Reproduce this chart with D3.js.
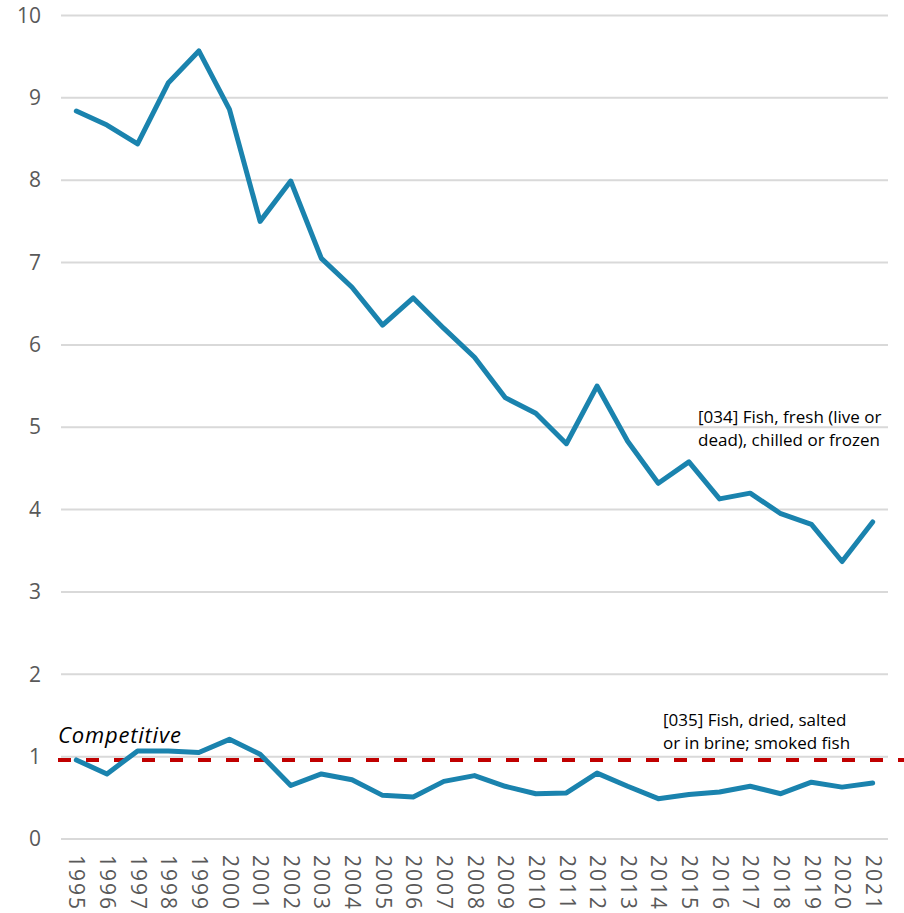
<!DOCTYPE html>
<html>
<head>
<meta charset="utf-8">
<script src="https://cdn.jsdelivr.net/npm/d3@7"></script>
<style>
  body { margin: 0; background: #fff; }
  svg { display: block; font-family: "Open Sans", Lato, sans-serif; }
</style>
</head>
<body>
<div id="main"></div>
<script>
const W = 904;
const H = 913;

var years = ["1995","1996","1997","1998","1999","2000","2001","2002","2003","2004",
             "2005","2006","2007","2008","2009","2010","2011","2012","2013","2014",
             "2015","2016","2017","2018","2019","2020","2021"];

// [034] fresh fish
var fresh = [8.84, 8.67, 8.44, 9.18, 9.57, 8.86, 7.50, 7.99, 7.05, 6.70,
             6.24, 6.57, 6.20, 5.85, 5.36, 5.17, 4.80, 5.50, 4.83, 4.32,
             4.58, 4.13, 4.20, 3.95, 3.82, 3.37, 3.85];

// [035] dried / salted / smoked fish
var dried = [0.96, 0.79, 1.07, 1.07, 1.05, 1.21, 1.03, 0.65, 0.79, 0.72,
             0.53, 0.51, 0.70, 0.77, 0.64, 0.55, 0.56, 0.80, 0.64, 0.49,
             0.54, 0.57, 0.64, 0.55, 0.69, 0.63, 0.68];

var yTicks = [0, 1, 2, 3, 4, 5, 6, 7, 8, 9, 10];
var threshold = 0.96;

var freshLabel = ["[034] Fish, fresh (live or", "dead), chilled or frozen"];
var driedLabel = ["[035] Fish, dried, salted", "or in brine; smoked fish"];

var svg = d3.select("#main").append("svg")
    .attr("width", W)
    .attr("height", H);

var x = d3.scalePoint().domain(years).range([61, 888]).padding(0.5);
var y = d3.scaleLinear().domain([0, 10]).range([839, 15.5]);

// gridlines
svg.append("g")
    .selectAll("line")
    .data(yTicks)
    .enter()
    .append("line")
    .attr("x1", 61)
    .attr("x2", 888)
    .attr("y1", d => y(d))
    .attr("y2", d => y(d))
    .style("stroke", "#d9d9d9")
    .style("stroke-width", 2);

// y axis labels
var yAxis = d3.axisLeft(y).tickValues(yTicks).tickSize(0).tickPadding(0);
var yg = svg.append("g").attr("transform", "translate(41,0)").call(yAxis);
yg.select(".domain").remove();
yg.selectAll("text")
    .style("font-family", "'Open Sans', sans-serif")
    .style("font-size", "21px")
    .style("fill", "#595959");

// x axis labels, rotated
var xAxis = d3.axisBottom(x).tickSize(0).tickPadding(0);
var xg = svg.append("g").attr("transform", "translate(0,855)").call(xAxis);
xg.select(".domain").remove();
xg.selectAll("text")
    .attr("transform", "rotate(90)")
    .attr("x", 0)
    .attr("y", 0)
    .attr("dx", 0)
    .attr("dy", "0.35em")
    .style("text-anchor", "start")
    .style("font-family", "'Open Sans', sans-serif")
    .style("font-size", "21px")
    .style("letter-spacing", "2px")
    .style("fill", "#595959");

// competitive threshold
svg.append("line")
    .attr("x1", 58)
    .attr("x2", W)
    .attr("y1", y(threshold))
    .attr("y2", y(threshold))
    .style("stroke", "#c00000")
    .style("stroke-width", 4)
    .style("stroke-dasharray", "13,15");

svg.append("text")
    .attr("x", 58)
    .attr("y", 743)
    .style("font-size", "22px")
    .style("font-style", "italic")
    .style("letter-spacing", "0.8px")
    .style("fill", "#000")
    .text("Competitive");

var line = d3.line()
    .x((d, i) => x(years[i]))
    .y(d => y(d));

[fresh, dried].forEach(function(series){
    svg.append("path")
        .datum(series)
        .attr("d", line)
        .style("fill", "none")
        .style("stroke", "#1a83ae")
        .style("stroke-width", 5)
        .style("stroke-linejoin", "round")
        .style("stroke-linecap", "round");
});

var addLabel = function(lines, x0, y0){
    svg.append("g").selectAll("text")
        .data(lines)
        .enter()
        .append("text")
        .attr("x", x0)
        .attr("y", (d, i) => y0 + i * 23)
        .style("font-size", "17px")
        .style("fill", "#000")
        .text(d => d);
};

addLabel(freshLabel, 698, 423);
addLabel(driedLabel, 663, 726);
</script>
</body>
</html>
